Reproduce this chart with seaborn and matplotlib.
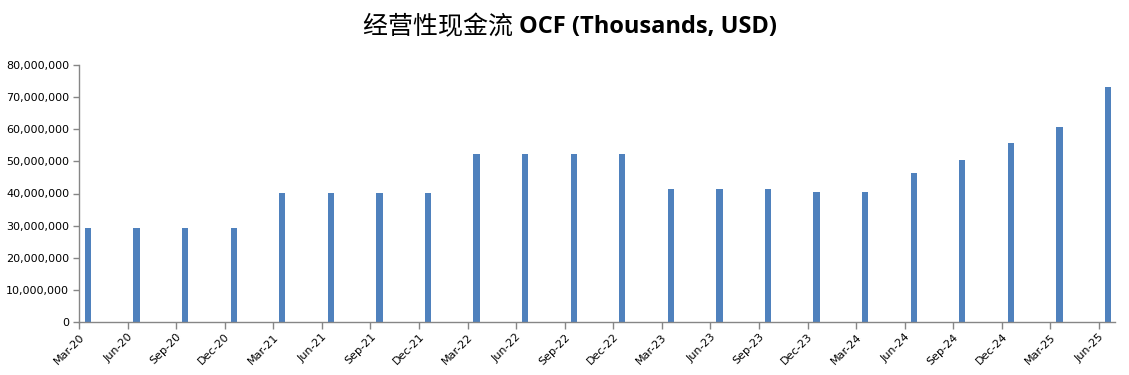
import numpy as np
import pandas as pd
import matplotlib
matplotlib.use("Agg")
import matplotlib.pyplot as plt
import seaborn as sns
from matplotlib.ticker import FuncFormatter

# ==========================
# 数据
# ==========================
quarters = ["Mar-20", "Jun-20", "Sep-20", "Dec-20",
            "Mar-21", "Jun-21", "Sep-21", "Dec-21",
            "Mar-22", "Jun-22", "Sep-22", "Dec-22",
            "Mar-23", "Jun-23", "Sep-23", "Dec-23",
            "Mar-24", "Jun-24", "Sep-24", "Dec-24",
            "Mar-25", "Jun-25"]
ocf = [29300000, 29300000, 29300000, 29300000,
       40200000, 40200000, 40200000, 40200000,
       52300000, 52300000, 52300000, 52300000,
       41400000, 41400000, 41400000, 40500000,
       40500000, 46400000, 50400000, 55700000,
       60700000, 73200000]
y_ticks = [0, 10000000, 20000000, 30000000, 40000000,
           50000000, 60000000, 70000000, 80000000]

title_cn = "经营性现金流 "
title_en = "OCF (Thousands, USD)"

BAR_COLOR = "#4F81BD"
AXIS_COLOR = "#868686"

sns.set_theme(style="white")
plt.rcParams["font.family"] = ["DejaVu Sans", "Noto Sans CJK SC"]
plt.rcParams["text.color"] = "black"
plt.rcParams["xtick.color"] = "black"
plt.rcParams["ytick.color"] = "black"

fig = plt.figure(figsize=(11.29, 3.75), dpi=100)
ax = fig.add_axes([79 / 1129, 1 - 322 / 375, (1115 - 79) / 1129, (322 - 65) / 375])

ticks_pos = np.arange(len(quarters))
df = pd.DataFrame({"pos": ticks_pos + 0.185, "ocf": ocf})
sns.barplot(data=df, x="pos", y="ocf", native_scale=True, width=0.13,
            color=BAR_COLOR, saturation=1, linewidth=0, edgecolor="none", ax=ax)

ax.set_xlim(0, 21.33)
ax.set_ylim(0, 80000000)
ax.set_xticks(ticks_pos)
ax.set_xticklabels(quarters, rotation=45, ha="right", rotation_mode="anchor", fontsize=8)
ax.set_yticks(y_ticks)
ax.yaxis.set_major_formatter(FuncFormatter(lambda v, _: f"{int(v):,}"))
ax.tick_params(axis="y", labelsize=8, length=4, width=1, color=AXIS_COLOR, pad=3, left=True)
ax.tick_params(axis="x", length=5, width=1, color=AXIS_COLOR, pad=2, bottom=True)
ax.set_xlabel("")
ax.set_ylabel("")
for s in ["top", "right"]:
    ax.spines[s].set_visible(False)
for s in ["left", "bottom"]:
    ax.spines[s].set_color(AXIS_COLOR)
    ax.spines[s].set_linewidth(1)

# 标题: 中文常规 + 英文粗体, 整体居中
t1 = fig.text(0, 1 - 27 / 375, title_cn, fontsize=18, va="center", color="black",
              family=["Noto Sans CJK SC", "DejaVu Sans"])
t2 = fig.text(0, 1 - 27 / 375, title_en, fontsize=17, va="center", color="black",
              fontweight="bold", family=["Open Sans", "DejaVu Sans"])
fig.canvas.draw()
r = fig.canvas.get_renderer()
w1 = t1.get_window_extent(r).width / fig.bbox.width
w2 = t2.get_window_extent(r).width / fig.bbox.width
x0 = 570 / 1129 - (w1 + w2) / 2
t1.set_x(x0)
t2.set_x(x0 + w1)

fig.savefig("out.png", dpi=100)
